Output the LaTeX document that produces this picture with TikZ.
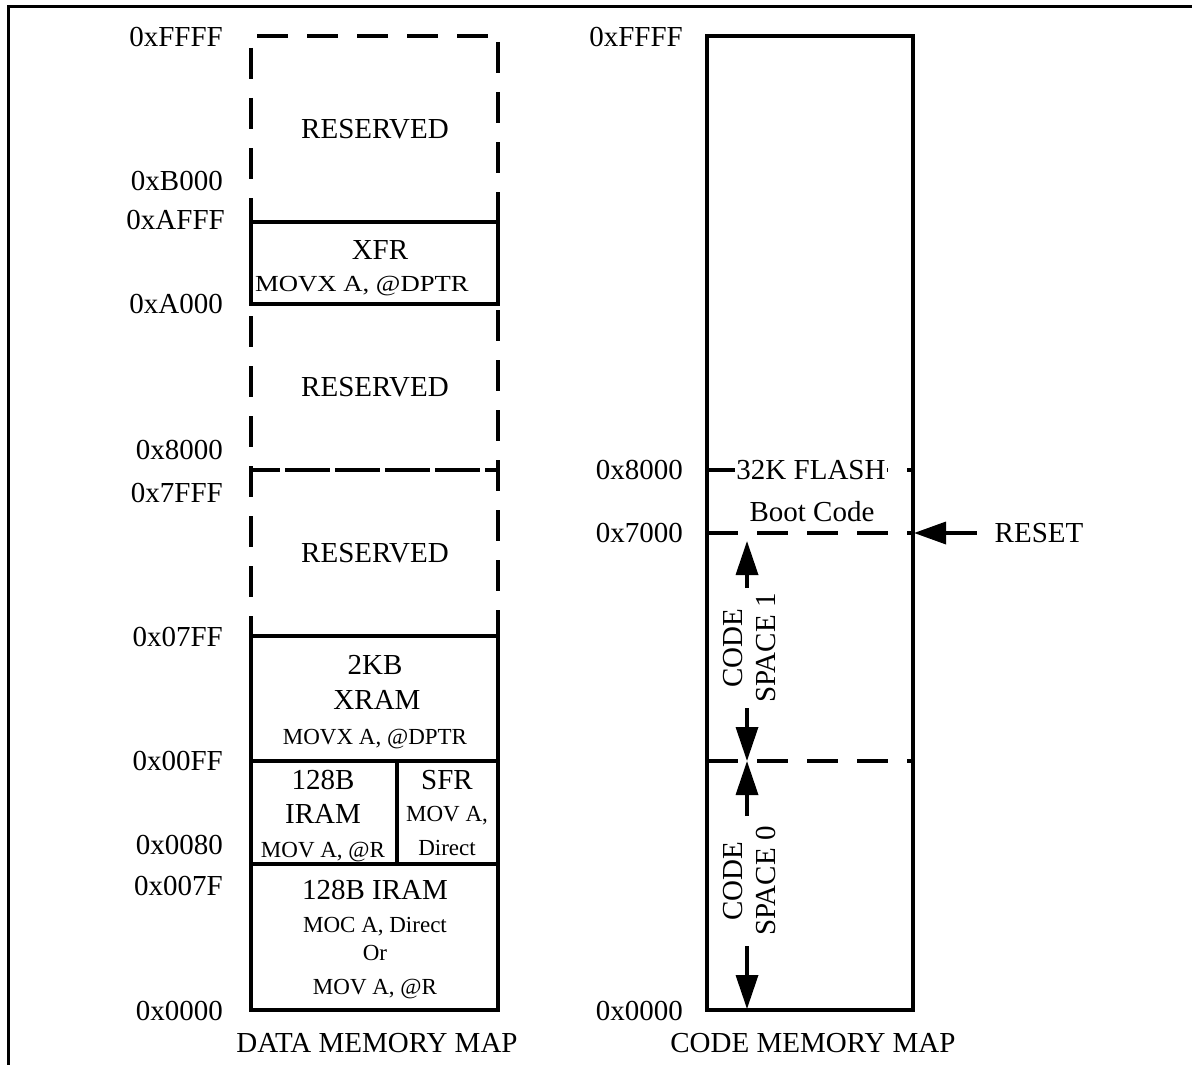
\documentclass[tikz,border=0pt]{standalone}
\usepackage{fontspec}
\setmainfont{Liberation Serif}
\usetikzlibrary{arrows.meta}
\begin{document}
\begin{tikzpicture}[x=1pt,y=-1pt,
  lbl/.style={font=\fontsize{29}{33}\selectfont, inner sep=0pt},
  sml/.style={font=\fontsize{23}{27}\selectfont, inner sep=0pt},
  addr/.style={lbl, anchor=east},
  wall/.style={line width=3.5pt},
  dsh/.style={wall, dash pattern=on 31pt off 19pt},
  fine/.style={wall, dash pattern=on 45pt off 5pt},
  arr/.style={line width=3.5pt, -{Triangle[length=34pt,width=22pt]}},
]
\useasboundingbox (0,0) rectangle (1192,1065);
% outer frame (top and left only)
\draw[line width=3pt] (1192,6.5) -- (8,6.5) -- (8,1065);

% ---------------- DATA MEMORY MAP ----------------
\draw[dsh, dash phase=44pt] (251,36) -- (498,36);
\draw[dsh, dash phase=38pt] (251,36) -- (251,222);
\draw[dsh, dash phase=44pt] (498,36) -- (498,222);
\draw[wall] (251,222) rectangle (498,304);
\draw[dsh, dash phase=38pt] (251,304) -- (251,636);
\draw[dsh, dash phase=44pt] (498,304) -- (498,636);
\draw[fine, dash phase=16pt] (251,470) -- (498,470);
\draw[wall] (251,636) rectangle (498,1010);
\draw[wall] (251,761) -- (498,761);
\draw[wall] (251,864) -- (498,864);
\draw[wall] (397,761) -- (397,864);

\node[addr] (dFFFF) at (223,37) {0xFFFF};
\node[addr] (dB000) at (223,181) {0xB000};
\node[addr] (dAFFF) at (225,220) {0xAFFF};
\node[addr] (dA000) at (223,304) {0xA000};
\node[addr] (d8000) at (223,450) {0x8000};
\node[addr] (d7FFF) at (223,493) {0x7FFF};
\node[addr] (d07FF) at (223,637) {0x07FF};
\node[addr] (d00FF) at (223,761) {0x00FF};
\node[addr] (d0080) at (223,845) {0x0080};
\node[addr] (d007F) at (223,886) {0x007F};
\node[addr] (d0000) at (223,1011) {0x0000};

\node[lbl] (res1) at (375,129) {RESERVED};
\node[lbl] (xfr) at (380,250) {XFR};
\node[sml, xscale=1.16] (xfrm) at (362,286) {MOVX A, @DPTR};
\node[lbl] (res2) at (375,387) {RESERVED};
\node[lbl] (res3) at (375,553) {RESERVED};
\node[lbl] (xkb) at (375,665) {2KB};
\node[lbl] (xram) at (377,700) {XRAM};
\node[sml] (xramm) at (375,739) {MOVX A, @DPTR};
\node[lbl] (iramA) at (323,780) {128B};
\node[lbl] (iramB) at (323,814) {IRAM};
\node[sml] (iramC) at (323,852) {MOV A, @R};
\node[lbl] (sfr) at (447,780) {SFR};
\node[sml] (sfrB) at (447,816) {MOV A,};
\node[sml] (sfrC) at (447,848) {Direct};
\node[lbl] (lowA) at (375,890) {128B IRAM};
\node[sml] (lowB) at (375,927) {MOC A, Direct};
\node[sml] (lowC) at (375,953) {Or};
\node[sml] (lowD) at (375,989) {MOV A, @R};
\node[lbl] (dmm) at (377,1043) {DATA MEMORY MAP};

% ---------------- CODE MEMORY MAP ----------------
\draw[wall] (707,36) rectangle (913,1010);
\draw[dsh] (707,470) -- (913,470);
\draw[dsh] (707,533) -- (913,533);
\draw[dsh] (707,761) -- (913,761);
\node[lbl, fill=white, inner xsep=1.5pt, inner ysep=3pt] (flash) at (811,470) {32K FLASH};
\node[lbl] (boot) at (812,512) {Boot Code};

\node[addr] (cFFFF) at (683,37) {0xFFFF};
\node[addr] (c8000) at (683,470) {0x8000};
\node[addr] (c7000) at (683,533) {0x7000};
\node[addr] (c0000) at (683,1011) {0x0000};

\node[lbl, align=center, rotate=90] (cs1) at (750,648) {CODE\\SPACE 1};
\node[lbl, align=center, rotate=90] (cs0) at (750,881) {CODE\\SPACE 0};

\coordinate (a1s) at (747,588);
\coordinate (a1e) at (747,541);
\coordinate (a2s) at (747,708);
\coordinate (a2e) at (747,761);
\coordinate (a3s) at (747,816);
\coordinate (a3e) at (747,761);
\coordinate (a4s) at (747,946);
\coordinate (a4e) at (747,1009);
\draw[arr] (a1s) -- (a1e);
\draw[arr] (a2s) -- (a2e);
\draw[arr] (a3s) -- (a3e);
\draw[arr] (a4s) -- (a4e);

\node[lbl] (reset) at (1039,533) {RESET};
\coordinate (rtip) at (914,533);
\draw[line width=3.5pt, -{Triangle[length=32pt,width=22pt]}] ([xshift=-18pt]reset.west) -- (rtip);

\node[lbl] (cmm) at (813,1043) {CODE MEMORY MAP};
\end{tikzpicture}
\end{document}
